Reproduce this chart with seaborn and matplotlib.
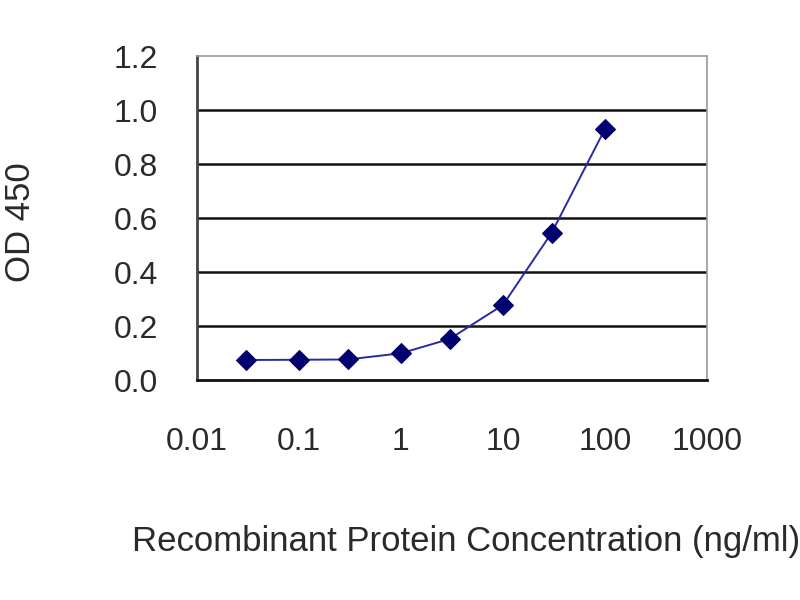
import matplotlib
matplotlib.use("Agg")
import matplotlib.pyplot as plt
import seaborn as sns
import pandas as pd
from matplotlib.ticker import FixedLocator, FixedFormatter, NullLocator

concentration = [0.03, 0.1, 0.3, 1, 3, 10, 30, 100]
od450 = [0.074, 0.075, 0.076, 0.099, 0.152, 0.278, 0.545, 0.93]
x_ticks = [0.01, 0.1, 1, 10, 100, 1000]
x_tick_labels = ["0.01", "0.1", "1", "10", "100", "1000"]
y_ticks = [0.0, 0.2, 0.4, 0.6, 0.8, 1.0, 1.2]
y_tick_labels = ["0.0", "0.2", "0.4", "0.6", "0.8", "1.0", "1.2"]

df = pd.DataFrame({"conc": concentration, "od": od450})

sns.set_theme(style="white")
plt.rcParams["font.family"] = ["Liberation Sans", "DejaVu Sans"]

fig = plt.figure(figsize=(8, 6), dpi=100)
ax = fig.add_axes([197/800, 1 - 380/600, 510/800, 324/600])

sns.lineplot(data=df, x="conc", y="od", ax=ax, color="#2a2aa0", lw=1.4,
             marker="D", markersize=10, markeredgecolor="#000066",
             markerfacecolor="#000070", zorder=5)

ax.set_xscale("log")
ax.set_xlim(0.01, 1000)
ax.set_ylim(0, 1.2)
ax.xaxis.set_major_locator(FixedLocator(x_ticks))
ax.xaxis.set_major_formatter(FixedFormatter(x_tick_labels))
ax.xaxis.set_minor_locator(NullLocator())
ax.yaxis.set_major_locator(FixedLocator(y_ticks))
ax.yaxis.set_major_formatter(FixedFormatter(y_tick_labels))

for y in y_ticks[1:-1]:
    ax.axhline(y, color="#111111", lw=1.8, zorder=1)

for side in ["top", "right"]:
    ax.spines[side].set_color("#9a9a9a")
    ax.spines[side].set_linewidth(1.2)
ax.spines["left"].set_color("#444444")
ax.spines["left"].set_linewidth(2.0)
ax.spines["bottom"].set_color("#111111")
ax.spines["bottom"].set_linewidth(2.0)

ax.tick_params(axis="both", which="major", direction="out", length=3,
               width=1.2, color="#333333", labelsize=23, labelcolor="#2a2a2a")
ax.tick_params(axis="y", pad=25)
ax.tick_params(axis="x", pad=31)

ax.set_xlabel("")
ax.set_ylabel("")
fig.text(466/800, 1 - 542/600, "Recombinant Protein Concentration (ng/ml)",
         ha="center", va="center", fontsize=25, color="#2a2a2a")
fig.text(21/800, 1 - 222/600, "OD 450", ha="center", va="center",
         rotation=90, fontsize=25, color="#2a2a2a")

fig.savefig("out.png", dpi=100, facecolor="white")
